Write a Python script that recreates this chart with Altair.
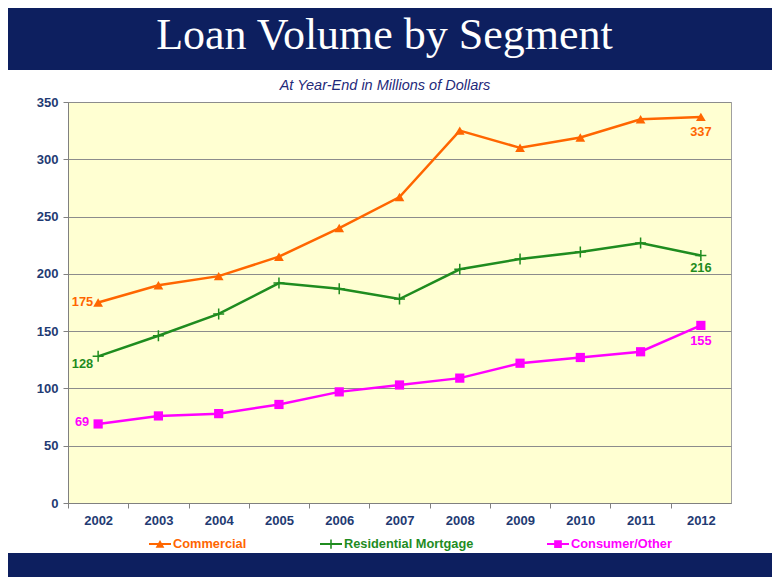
import altair as alt
import pandas as pd

YEARS = ["2002", "2003", "2004", "2005", "2006", "2007", "2008", "2009", "2010", "2011", "2012"]
SERIES = ["Commercial", "Residential Mortgage", "Consumer/Other"]
COMMERCIAL = [175, 190, 198, 215, 240, 267, 325, 310, 319, 335, 337]
RESIDENTIAL = [128, 146, 165, 192, 187, 178, 204, 213, 219, 227, 216]
CONSUMER = [69, 76, 78, 86, 97, 103, 109, 122, 127, 132, 155]
COLORS = ["#FF6600", "#1F8C1F", "#FF00FF"]
TITLE = "Loan Volume by Segment"
SUBTITLE = "At Year-End in Millions of Dollars"
Y_TICKS = [0, 50, 100, 150, 200, 250, 300, 350]

NAVY = "#0D1F5F"
AXIS_TXT = "#1F3B73"
FONT = "Liberation Sans"

rows = []
for name, vals in zip(SERIES, [COMMERCIAL, RESIDENTIAL, CONSUMER]):
    for y, v in zip(YEARS, vals):
        rows.append({"year": y, "series": name, "value": v})
df = pd.DataFrame(rows)

W, H = 663, 401

x_enc = alt.X("year:O", sort=YEARS,
              scale=alt.Scale(type="point", padding=0.5, domain=YEARS),
              axis=alt.Axis(title=None, labelAngle=0, labelFont=FONT, labelFontSize=13,
                            labelFontWeight="bold", labelColor=AXIS_TXT, domainColor="#808080",
                            tickColor="#808080", tickSize=5, tickOffset=-W / 22,
                            labelOffset=W / 22, labelPadding=6, grid=False))
y_enc = alt.Y("value:Q", scale=alt.Scale(domain=[0, 350], nice=False, zero=True),
              axis=alt.Axis(title=None, values=Y_TICKS, labelFont=FONT, labelFontSize=13,
                            labelFontWeight="bold", labelColor=AXIS_TXT, domainColor="#808080",
                            tickColor="#808080", tickSize=5, labelPadding=5,
                            grid=True, gridColor="#8C8C8C", gridWidth=1))

base = alt.Chart(df)


def series_layers(i, point_kw):
    sub = base.transform_filter(alt.datum.series == SERIES[i])
    ln = sub.mark_line(strokeWidth=2.5, color=COLORS[i]).encode(x=x_enc, y=y_enc)
    pt = sub.mark_point(color=COLORS[i], opacity=1, **point_kw).encode(x="year:O", y="value:Q")
    return [ln, pt]


s_layers = (
    series_layers(0, dict(shape="triangle-up", filled=True, size=95))
    + series_layers(1, dict(shape="M-1,0L1,0M0,-1L0,1", filled=False, size=121, strokeWidth=1.5))
    + series_layers(2, dict(shape="square", filled=True, size=85))
)

# Legend (line + marker symbols) via an invisible point layer
LEG_SHAPES = [
    "M-1,-0.09L1,-0.09L1,0.09L-1,0.09Z M-0.4,0.33L0,-0.38L0.4,0.33Z",
    "M-1,-0.09L1,-0.09L1,0.09L-1,0.09Z M-0.07,-0.42L0.07,-0.42L0.07,0.42L-0.07,0.42Z",
    "M-1,-0.09L1,-0.09L1,0.09L-1,0.09Z M-0.35,-0.35L0.35,-0.35L0.35,0.35L-0.35,0.35Z",
]
label_color_expr = ("datum.value == 'Commercial' ? '%s' : datum.value == 'Residential Mortgage' ? '%s' : '%s'"
                    % (COLORS[0], COLORS[1], COLORS[2]))
leg = alt.Legend(title=None, orient="none", legendX=81, legendY=431, direction="horizontal",
                 symbolSize=484, symbolOpacity=1, symbolStrokeWidth=0, labelOffset=2,
                 columnPadding=73, padding=0, labelFont=FONT, labelFontSize=12.8,
                 labelFontWeight="bold", labelColor={"expr": label_color_expr}, labelBaseline="middle")
legend_layer = base.mark_point(filled=True, opacity=0).encode(
    x="year:O", y="value:Q",
    color=alt.Color("series:N", sort=SERIES, scale=alt.Scale(domain=SERIES, range=COLORS), legend=leg),
    shape=alt.Shape("series:N", sort=SERIES, scale=alt.Scale(domain=SERIES, range=LEG_SHAPES), legend=leg),
)


def val_label(series, year, color, **kw):
    return base.transform_filter(
        (alt.datum.series == series) & (alt.datum.year == year)
    ).mark_text(font=FONT, fontSize=12.8, fontWeight="bold", color=color, **kw).encode(
        x="year:O", y="value:Q", text="value:Q")


labels = [
    val_label(SERIES[0], YEARS[0], COLORS[0], align="right", baseline="middle", dx=-5, dy=-1),
    val_label(SERIES[1], YEARS[0], COLORS[1], align="right", baseline="middle", dx=-5, dy=8),
    val_label(SERIES[2], YEARS[0], COLORS[2], align="right", baseline="middle", dx=-9, dy=-2),
    val_label(SERIES[0], YEARS[-1], COLORS[0], align="center", baseline="middle", dy=15),
    val_label(SERIES[1], YEARS[-1], COLORS[1], align="center", baseline="middle", dy=12),
    val_label(SERIES[2], YEARS[-1], COLORS[2], align="center", baseline="middle", dy=16),
]

one = pd.DataFrame({"t": [TITLE], "s": [SUBTITLE]})
header = alt.Chart(one).mark_rect(color=NAVY).encode(
    x=alt.value(-60), x2=alt.value(704), y=alt.value(-94), y2=alt.value(-32))
footer = alt.Chart(one).mark_rect(color=NAVY).encode(
    x=alt.value(-60), x2=alt.value(704), y=alt.value(451), y2=alt.value(480))
title = alt.Chart(one).mark_text(font="Liberation Serif", fontSize=44, color="white",
                                 align="center", baseline="alphabetic").encode(
    x=alt.value(316.5), y=alt.value(-53), text="t:N")
subtitle = alt.Chart(one).mark_text(font=FONT, fontSize=14.5, fontStyle="italic", color="#1F2A7A",
                                    align="center", baseline="alphabetic").encode(
    x=alt.value(317), y=alt.value(-12), text="s:N")

chart = alt.layer(
    *s_layers, legend_layer, *labels, header, footer, title, subtitle
).properties(
    width=W, height=H,
    autosize=alt.AutoSizeParams(type="none"),
    padding={"left": 60, "top": 94, "right": 41, "bottom": 74},
    background="white",
).configure_view(
    fill="#FFFFD2", stroke="#A0A0A0", strokeWidth=1
)

chart.save("out.html", embed_options={"renderer": "svg", "actions": False})
